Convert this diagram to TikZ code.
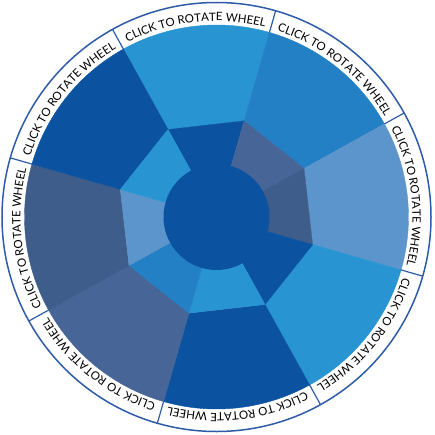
\documentclass[tikz,border=0pt]{standalone}
\usepackage{fontspec}
\usepackage{xcolor}
\usepackage{tikz}
\usetikzlibrary{decorations.text}
\newfontfamily\wheelfont{Lato}
\definecolor{wlight}{HTML}{2895D2}
\definecolor{wmid}{HTML}{2380C4}
\definecolor{wsteel}{HTML}{5B95CB}
\definecolor{wdark}{HTML}{0B52A0}
\definecolor{wgrey}{HTML}{476597}
\definecolor{wslate}{HTML}{3F5D8A}
\definecolor{wline}{HTML}{2D5BA8}

\begin{document}
\begin{tikzpicture}[x=1pt, y=1pt]
        \useasboundingbox (-216.5,-217) rectangle (218.5,217);
        % outer segment, inner segment (turned half a wheel)
        \foreach \i/\co/\ci in {0/wlight/wdark, 1/wmid/wgrey, 2/wsteel/wslate, 3/wlight/wdark,
                                4/wdark/wlight, 5/wgrey/wmid, 6/wslate/wsteel, 7/wdark/wlight} {
            \pgfmathsetmacro{\angA}{119-45*\i}
            \pgfmathsetmacro{\angB}{74-45*\i}
            \filldraw[\co, line width=0.4pt] (\angA:100) -- (\angB:100) -- (\angB:192)
                arc[start angle=\angB, end angle=\angA, radius=192] -- cycle;
            \filldraw[\ci, line width=0.4pt] (0,0) -- (\angA:100) -- (\angB:100) -- cycle;
        }
        \fill[wdark] (0,0) circle (53);
        % text ring
        \draw[wline, line width=1.5pt] (0,0) circle (214.5);
        \foreach \i in {0,...,7} {
            \pgfmathsetmacro{\angA}{119-45*\i}
            \pgfmathsetmacro{\angS}{117-45*\i}
            \pgfmathsetmacro{\angE}{76-45*\i}
            \draw[wline, line width=1.2pt] (\angA:192) -- (\angA:214.5);
            \path[decorate, decoration={text along path, text align=fit to path,
                text={|\wheelfont\fontsize{11.5}{13}\selectfont|CLICK TO ROTATE WHEEL}}]
                (\angS:196) arc[start angle=\angS, end angle=\angE, radius=196];
        }
    \end{tikzpicture}
\end{document}
